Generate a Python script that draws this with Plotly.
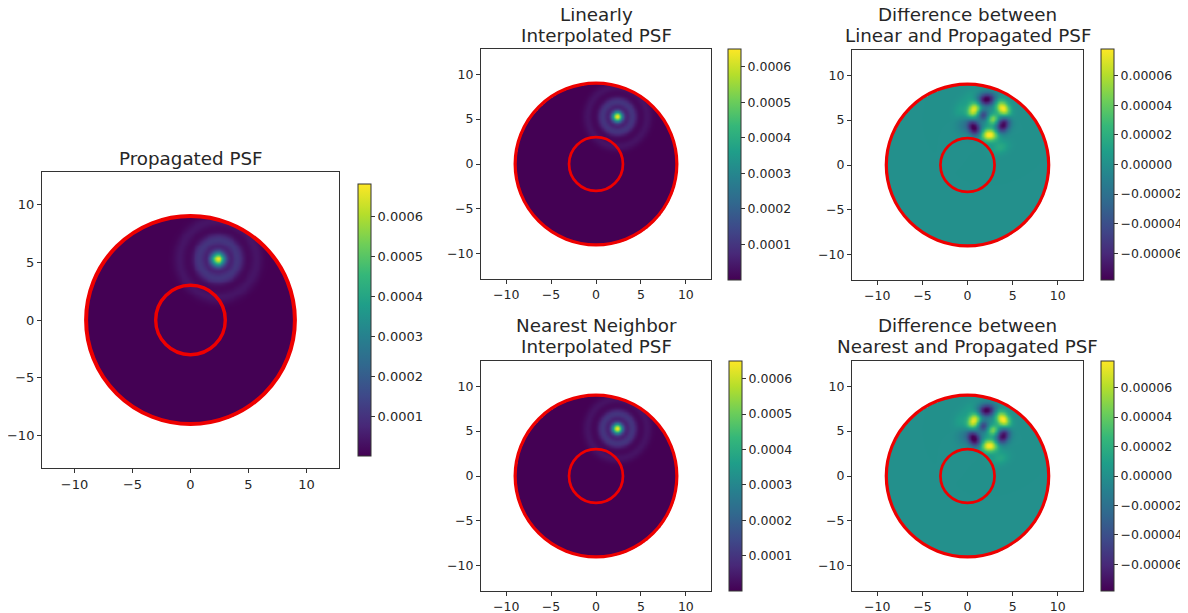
import numpy as np
import plotly.graph_objects as go

# the page body adds an 8 px margin; the figure is drawn 8 px in from the corner
OFF = 8
W, H = 1188 - OFF, 613 - OFF

# ---------------- data ----------------
TITLE_LINES = [["Propagated PSF"],
               ["Linearly", "Interpolated PSF"],
               ["Difference between", "Linear and Propagated PSF"],
               ["Nearest Neighbor", "Interpolated PSF"],
               ["Difference between", "Nearest and Propagated PSF"]]

AXIS_TICKS = [-10, -5, 0, 5, 10]
AXIS_TICK_TEXT = ["\u221210", "\u22125", "0", "5", "10"]

PSF_TICKS = [0.0001, 0.0002, 0.0003, 0.0004, 0.0005, 0.0006]
PSF_TICK_TEXT = ["0.0001", "0.0002", "0.0003", "0.0004", "0.0005", "0.0006"]
DIFF_TICKS = [-0.00006, -0.00004, -0.00002, 0.0, 0.00002, 0.00004, 0.00006]
DIFF_TICK_TEXT = ["\u22120.00006", "\u22120.00004", "\u22120.00002", "0.00000",
                  "0.00002", "0.00004", "0.00006"]

OUTER_RADIUS = 9.0
INNER_RADIUS = 3.0

PSF_CENTER = [2.35, 5.3]
# peak value of each PSF panel (propagated, linear, nearest)
PSF_PEAKS = [0.00066, 0.00063, 0.00063]
PSF_ZMAX = [0.00068, 0.00065, 0.00065]
RING_RADII = [1.65, 3.3]
RING_LEVELS_PROP = [0.000105, 0.000038]
RING_LEVELS_LIN = [0.0001, 0.000033]
RING_LEVELS_NEAR = [0.0001, 0.000033]

DIFF_ZMAX = 0.000078
# blobs of the difference maps (x, y) and amplitudes
BLOB_X = [2.04, 0.67, 3.90, 1.70, 2.80, 0.67, 3.90, 2.40, 3.55, -0.90, -0.70, 0.2]
BLOB_Y = [7.33, 6.20, 6.30, 5.60, 5.10, 4.20, 4.50, 3.40, 2.00, 6.10, 4.40, 7.6]
LINEAR_AMP = [-8.2e-5, 7.4e-5, 7.8e-5, -4.6e-5, 5.0e-5, -8.2e-5, -7.8e-5, 8.2e-5,
              1.6e-5, 1.0e-5, -1.0e-5, 7e-6]
NEAREST_AMP = [-8.0e-5, 7.6e-5, 8.0e-5, -4.8e-5, 4.8e-5, -8.4e-5, -7.6e-5, 8.0e-5,
               1.4e-5, 9e-6, -9e-6, 6e-6]

# ---------------- images ----------------
grid = np.linspace(-9.6, 9.6, 241)
GX, GY = np.meshgrid(grid, grid)
mask = np.hypot(GX, GY) > OUTER_RADIUS


def psf_image(peak, ring_levels):
    r = np.hypot(GX - PSF_CENTER[0], GY - PSF_CENTER[1])
    img = peak * np.exp(-r ** 2 / (2 * 0.43 ** 2))
    for R, lv in zip(RING_RADII, ring_levels):
        img = img + lv * np.exp(-(r - R) ** 2 / (2 * 0.4 ** 2))
    img = np.where(mask, np.nan, img)
    return img


def diff_image(amps):
    img = np.zeros_like(GX)
    for bx, by, a in zip(BLOB_X, BLOB_Y, amps):
        vx, vy = bx - PSF_CENTER[0], by - PSF_CENTER[1]
        d = np.hypot(vx, vy)
        dx, dy = GX - bx, GY - by
        if d < 1.0:
            img = img + a * np.exp(-(dx ** 2 + dy ** 2) / (2 * 0.42 ** 2))
        else:
            ux, uy = vx / d, vy / d
            rr = dx * ux + dy * uy
            tt = -dx * uy + dy * ux
            img = img + a * np.exp(-(rr ** 2 / (2 * 0.48 ** 2) + tt ** 2 / (2 * 0.7 ** 2)))
    img = np.where(mask, np.nan, img)
    return img


images = [psf_image(PSF_PEAKS[0], RING_LEVELS_PROP),
          psf_image(PSF_PEAKS[1], RING_LEVELS_LIN),
          diff_image(LINEAR_AMP),
          psf_image(PSF_PEAKS[2], RING_LEVELS_NEAR),
          diff_image(NEAREST_AMP)]
ZMAX_OF = [PSF_ZMAX[0], PSF_ZMAX[1], None, PSF_ZMAX[2], None]

# ---------------- layout (pixel boxes in the screenshot) ----------------
AX_BOX = [(42, 339, 172, 468), (481, 711, 49, 279), (852, 1083, 50, 280),
          (481, 711, 361, 591), (852, 1083, 361, 591)]
CB_BOX = [(358, 184, 456), (728, 49, 280), (1101, 49, 280),
          (729, 361, 591), (1101, 361, 591)]
TITLE_BASELINES = [[165], [21.5, 42], [21, 42], [332, 353], [332, 353]]
TITLE_SIZE = 18.3
LINE_WIDTH = [4, 3.2, 3.2, 3.2, 3.2]

FONT = "DejaVu Sans"
TXT = "#262626"


def px(v):
    return (v - OFF) / W


def py(v):
    return 1 - (v - OFF) / H


fig = go.Figure()
layout = dict(width=W, height=H, margin=dict(l=0, r=0, t=0, b=0),
              paper_bgcolor="white", plot_bgcolor="white", showlegend=False)
shapes = []
annotations = []

for i in range(5):
    s = "" if i == 0 else str(i + 1)
    x0, x1, y0, y1 = AX_BOX[i]
    is_diff = i in (2, 4)
    cbx, cby0, cby1 = CB_BOX[i]
    colorbar = dict(
        x=px(cbx), xanchor="left", xref="paper",
        y=(py(cby0) + py(cby1)) / 2, yanchor="middle", yref="paper",
        len=(cby1 - cby0) / H, lenmode="fraction",
        thickness=13, thicknessmode="pixels", xpad=0, ypad=0,
        outlinewidth=1, outlinecolor="#333",
        ticks="outside", ticklen=4, tickwidth=1, tickcolor="#333",
        tickvals=DIFF_TICKS if is_diff else PSF_TICKS,
        ticktext=DIFF_TICK_TEXT if is_diff else PSF_TICK_TEXT,
        tickfont=dict(family=FONT, size=13 if i == 0 else 12.5, color=TXT),
    )
    if is_diff:
        zmin, zmax = -DIFF_ZMAX, DIFF_ZMAX
    else:
        zmin, zmax = 0.0, ZMAX_OF[i]
    fig.add_trace(go.Heatmap(
        x=grid, y=grid, z=images[i], colorscale="Viridis", zmin=zmin, zmax=zmax,
        zsmooth="best", colorbar=colorbar, hoverinfo="skip",
        xaxis="x" + s, yaxis="y" + s))

    axcommon = dict(range=[-12.8, 12.8], showgrid=False, zeroline=False,
                    showline=True, linecolor="#333", linewidth=1, mirror=True,
                    ticks="outside", ticklen=4, tickcolor="#333",
                    tickvals=AXIS_TICKS, ticktext=AXIS_TICK_TEXT,
                    tickfont=dict(family=FONT, size=13 if i == 0 else 12.5, color=TXT))
    layout["xaxis" + s] = dict(axcommon, domain=[px(x0), px(x1)], anchor="y" + s)
    layout["yaxis" + s] = dict(axcommon, domain=[py(y1), py(y0)], anchor="x" + s)

    for rad, lw in ((OUTER_RADIUS, LINE_WIDTH[i]), (INNER_RADIUS, LINE_WIDTH[i] * 0.85)):
        shapes.append(dict(type="circle", xref="x" + s, yref="y" + s,
                           x0=-rad, y0=-rad, x1=rad, y1=rad,
                           line=dict(color="#ee0000", width=lw)))

    # one annotation per title line, placed by its baseline
    for line, base in zip(TITLE_LINES[i], TITLE_BASELINES[i]):
        annotations.append(dict(text=line, xref="paper", yref="paper",
                                x=px((x0 + x1) / 2), y=py(base + 5),
                                xanchor="center", yanchor="bottom", showarrow=False,
                                borderpad=0,
                                font=dict(family=FONT, size=TITLE_SIZE, color=TXT)))

layout["shapes"] = shapes
layout["annotations"] = annotations
fig.update_layout(**layout)
fig.write_html("out.html")
